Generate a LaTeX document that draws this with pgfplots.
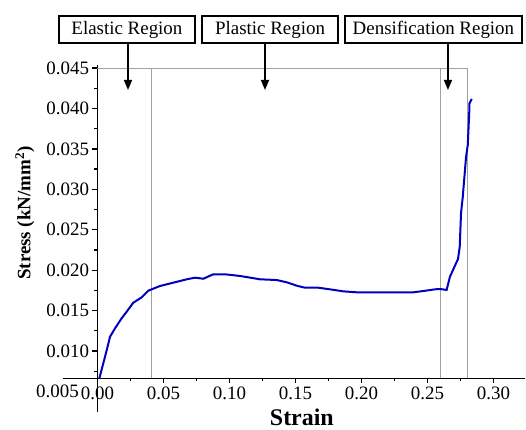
\documentclass[border=0pt]{standalone}
\usepackage{fontspec}
\setmainfont{Liberation Serif}
\usepackage{pgfplots}
\pgfplotsset{compat=1.18}
\usetikzlibrary{arrows.meta}
\definecolor{curveblue}{HTML}{0000C0}
\definecolor{regiongray}{HTML}{A0A0A0}

\begin{document}
\begin{tikzpicture}
\begin{axis}[
    scale only axis, width=462bp, height=313.3bp,
    xmin=-0.02614, xmax=0.3239, ymin=0.00662, ymax=0.04537,
    axis x line*=bottom, axis y line*=middle,
    hide obscured x ticks=false,
    axis line style={black, line width=1.6bp},
    xtick={0,0.05,0.10,0.15,0.20,0.25,0.30},
    minor xtick={0.025,0.075,0.125,0.175,0.225,0.275},
    ytick={0.010,0.015,0.020,0.025,0.030,0.035,0.040,0.045},
    minor ytick={0.0075,0.0125,0.0175,0.0225,0.0275,0.0325,0.0375,0.0425},
    scaled x ticks=false, scaled y ticks=false,
    tick align=outside,
    major tick length=5bp, minor tick length=3bp,
    every tick/.style={black, line width=1.3bp},
    tick label style={font=\fontsize{19}{22}\selectfont, /pgf/number format/assume math mode=true},
    xticklabel style={/pgf/number format/.cd, fixed, fixed zerofill, precision=2},
    yticklabel style={/pgf/number format/.cd, fixed, fixed zerofill, precision=3},
    xlabel={Strain},
    xlabel style={font=\fontsize{24}{28}\selectfont\bfseries, at={(axis description cs:0.517,-0.123)}, anchor=center},
    ylabel={Stress (kN/mm\textsuperscript{2})},
    ylabel style={font=\fontsize{19}{22}\selectfont\bfseries, at={(axis description cs:-0.0823,0.5276)}, anchor=center},
    clip=false,
]
% region frame
\addplot[regiongray, line width=1bp] coordinates {(0,0.045) (0.28,0.045)};
\addplot[regiongray, line width=1bp] coordinates {(0.041,0.00662) (0.041,0.045)};
\addplot[regiongray, line width=1bp] coordinates {(0.26,0.00662) (0.26,0.045)};
\addplot[regiongray, line width=1bp] coordinates {(0.28,0.00662) (0.28,0.045)};

% stress-strain curve
\addplot[curveblue, line width=2bp] coordinates {
(0.0014,0.00663) (0.0044,0.00848) (0.0070,0.01013) (0.0095,0.01177)
(0.0133,0.01281) (0.0183,0.01405) (0.0221,0.01486) (0.0271,0.01597)
(0.0335,0.01664) (0.0385,0.01746) (0.0473,0.01804) (0.0574,0.01845)
(0.0676,0.01887) (0.0739,0.01907) (0.0802,0.01894) (0.0877,0.01949)
(0.0966,0.01949) (0.1080,0.01928) (0.1231,0.01887) (0.1358,0.01878)
(0.1433,0.01850) (0.1509,0.01808) (0.1572,0.01783) (0.1673,0.01783)
(0.1761,0.01763) (0.1862,0.01738) (0.1964,0.01726) (0.2392,0.01726)
(0.2468,0.01742) (0.2557,0.01763) (0.2595,0.01767) (0.2645,0.01755)
(0.2670,0.01919) (0.2731,0.02138) (0.2744,0.02286) (0.2754,0.02707)
(0.2767,0.02905) (0.2792,0.03399) (0.2805,0.03548) (0.2817,0.03981)
(0.2817,0.04060) (0.2835,0.04117)
};

% y axis continues below the x axis
\draw[black, line width=1.6bp] (axis cs:0,0.00662) -- (axis cs:0,0.00246);
\node[anchor=east, inner sep=0pt, font=\fontsize{19}{22}\selectfont] at (axis cs:-0.014,0.005) {0.005};

% region labels
\node[draw, line width=1.2bp, minimum width=136bp, minimum height=27bp, inner sep=0pt,
      font=\fontsize{19}{22}\selectfont] at (axis cs:0.0223,0.04976) {Elastic Region};
\node[draw, line width=1.2bp, minimum width=136bp, minimum height=27bp, inner sep=0pt,
      font=\fontsize{19}{22}\selectfont] at (axis cs:0.1307,0.04976) {Plastic Region};
\node[draw, line width=1.2bp, minimum width=177bp, minimum height=27bp, inner sep=0pt,
      font=\fontsize{19}{22}\selectfont] at (axis cs:0.2545,0.04976) {Densification Region};
\draw[line width=1.5bp, -{Triangle[width=8bp,length=10bp]}] (axis cs:0.0231,0.0481) -- (axis cs:0.0231,0.04228);
\draw[line width=1.5bp, -{Triangle[width=8bp,length=10bp]}] (axis cs:0.1269,0.0481) -- (axis cs:0.1269,0.04228);
\draw[line width=1.5bp, -{Triangle[width=8bp,length=10bp]}] (axis cs:0.2655,0.0481) -- (axis cs:0.2655,0.04228);

\coordinate (bbl) at (axis cs:-0.07386,0.000355);
\coordinate (btr) at (axis cs:0.32462,0.05341);
\end{axis}
\pgfresetboundingbox
\path (bbl) rectangle (btr);
\end{tikzpicture}
\end{document}
